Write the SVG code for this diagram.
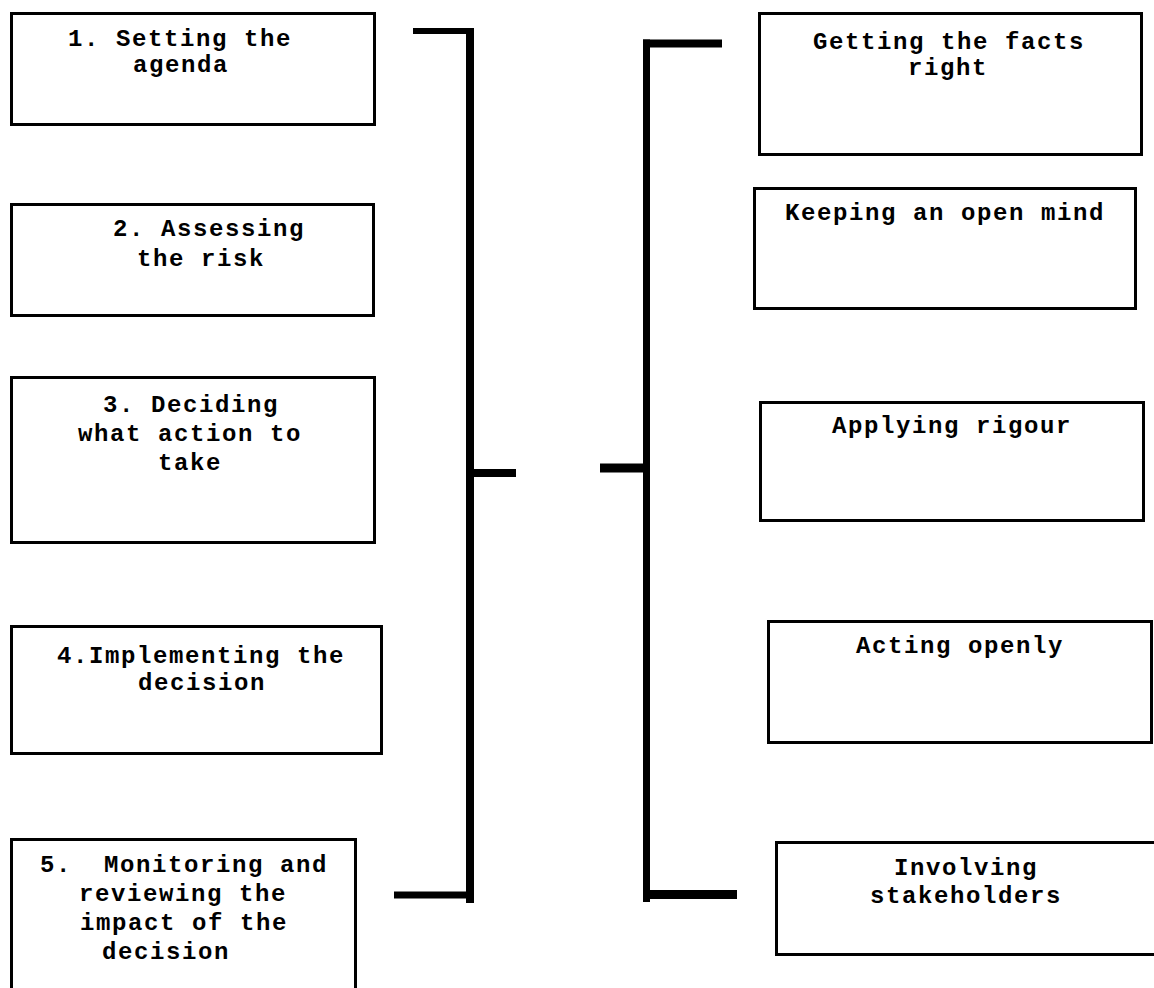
<svg xmlns="http://www.w3.org/2000/svg" width="1154" height="988" viewBox="0 0 1154 988">
<style>
.box{fill:#fff;stroke:#000;stroke-width:3}
.t{font-family:"Liberation Mono","Courier New",monospace;font-weight:bold;font-size:24px;letter-spacing:1.6px;fill:#000;white-space:pre}
.c{stroke:#000;fill:none;stroke-linecap:butt}
</style>
<rect width="1154" height="988" fill="#fff"/>
<g id="connectors">
<line class="c" x1="413" y1="31" x2="474" y2="31" stroke-width="6"/>
<line class="c" x1="470" y1="28" x2="470" y2="903" stroke-width="8"/>
<line class="c" x1="470" y1="473" x2="516" y2="473" stroke-width="8"/>
<line class="c" x1="394" y1="895" x2="474" y2="895" stroke-width="7"/>
<line class="c" x1="643" y1="43.5" x2="722" y2="43.5" stroke-width="8"/>
<line class="c" x1="646.5" y1="39.5" x2="646.5" y2="902" stroke-width="7"/>
<line class="c" x1="600" y1="468" x2="646" y2="468" stroke-width="9"/>
<line class="c" x1="643" y1="894.5" x2="737" y2="894.5" stroke-width="9"/>
</g>
<g id="step1"><rect class="box" x="11.5" y="13.5" width="363" height="111"/>
<text class="t" x="68" y="46">1. Setting the</text><text class="t" x="133" y="72">agenda</text></g>
<g id="step2"><rect class="box" x="11.5" y="204.5" width="362" height="111"/>
<text class="t" x="113" y="236">2. Assessing</text><text class="t" x="137" y="266">the risk</text></g>
<g id="step3"><rect class="box" x="11.5" y="377.5" width="363" height="165"/>
<text class="t" x="103" y="412">3. Deciding</text><text class="t" x="78" y="441">what action to</text><text class="t" x="158" y="470">take</text></g>
<g id="step4"><rect class="box" x="11.5" y="626.5" width="370" height="127"/>
<text class="t" x="57" y="663">4.Implementing the</text><text class="t" x="138" y="690">decision</text></g>
<g id="step5"><rect class="box" x="11.5" y="839.5" width="344" height="170"/>
<text class="t" x="40" y="872" xml:space="preserve">5.  Monitoring and</text><text class="t" x="79" y="901">reviewing the</text><text class="t" x="80" y="930">impact of the</text><text class="t" x="102" y="959">decision</text></g>
<g id="facts"><rect class="box" x="759.5" y="13.5" width="382" height="141"/>
<text class="t" x="813" y="49">Getting the facts</text><text class="t" x="908" y="75">right</text></g>
<g id="openmind"><rect class="box" x="754.5" y="188.5" width="381" height="120"/>
<text class="t" x="785" y="220">Keeping an open mind</text></g>
<g id="rigour"><rect class="box" x="760.5" y="402.5" width="383" height="118"/>
<text class="t" x="832" y="433">Applying rigour</text></g>
<g id="openly"><rect class="box" x="768.5" y="621.5" width="383" height="121"/>
<text class="t" x="856" y="653">Acting openly</text></g>
<g id="stakeholders"><rect class="box" x="776.5" y="842.5" width="400" height="112"/>
<text class="t" x="894" y="875">Involving</text><text class="t" x="870" y="903">stakeholders</text></g>
</svg>
